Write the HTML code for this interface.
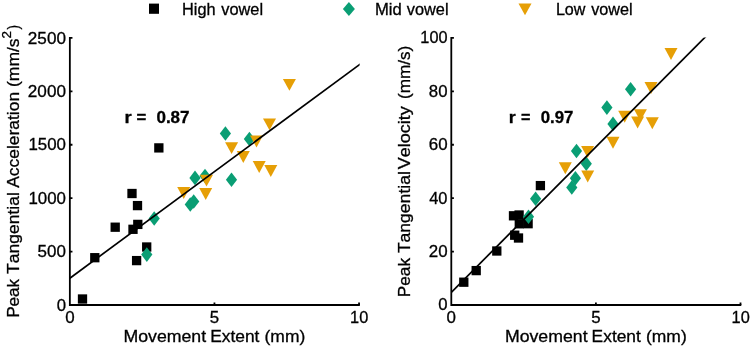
<!DOCTYPE html><html><head><meta charset="utf-8"><title>fig</title><style>html,body{margin:0;padding:0;background:#fff}svg{display:block}text{font-family:"Liberation Sans",sans-serif;font-kerning:none;stroke:#000;stroke-width:0.3px;font-size:16.5px;fill:#000}</style></head><body>
<svg width="751" height="347" viewBox="0 0 751 347">
<rect width="751" height="347" fill="#fff"/>
<rect x="149" y="3.6" width="10" height="10.2" fill="#000"/>
<path d="M348.90 1.95L354.90 8.95L348.90 15.95L342.90 8.95Z" fill="#0a9e74"/>
<path d="M518.50 3.60L531.50 3.60L525.00 15.30Z" fill="#e69f06"/>
<rect x="77.85" y="294.35" width="9.3" height="9.3" fill="#000"/>
<rect x="90.15" y="253.05" width="9.3" height="9.3" fill="#000"/>
<rect x="131.95" y="255.95" width="9.3" height="9.3" fill="#000"/>
<rect x="110.55" y="222.55" width="9.3" height="9.3" fill="#000"/>
<rect x="128.35" y="224.65" width="9.3" height="9.3" fill="#000"/>
<rect x="133.15" y="219.75" width="9.3" height="9.3" fill="#000"/>
<rect x="132.85" y="200.95" width="9.3" height="9.3" fill="#000"/>
<rect x="127.35" y="188.85" width="9.3" height="9.3" fill="#000"/>
<rect x="142.05" y="242.35" width="9.3" height="9.3" fill="#000"/>
<rect x="154.20" y="143.25" width="9.3" height="9.3" fill="#000"/>
<path d="M146.80 247.30L152.40 254.60L146.80 261.90L141.20 254.60Z" fill="#0a9e74"/>
<path d="M154.20 211.20L159.80 218.50L154.20 225.80L148.60 218.50Z" fill="#0a9e74"/>
<path d="M190.30 197.20L195.90 204.50L190.30 211.80L184.70 204.50Z" fill="#0a9e74"/>
<path d="M193.70 194.20L199.30 201.50L193.70 208.80L188.10 201.50Z" fill="#0a9e74"/>
<path d="M195.00 170.60L200.60 177.90L195.00 185.20L189.40 177.90Z" fill="#0a9e74"/>
<path d="M205.00 168.70L210.60 176.00L205.00 183.30L199.40 176.00Z" fill="#0a9e74"/>
<path d="M231.50 172.50L237.10 179.80L231.50 187.10L225.90 179.80Z" fill="#0a9e74"/>
<path d="M225.40 126.20L231.00 133.50L225.40 140.80L219.80 133.50Z" fill="#0a9e74"/>
<path d="M249.40 131.70L255.00 139.00L249.40 146.30L243.80 139.00Z" fill="#0a9e74"/>
<path d="M177.20 187.00L190.20 187.00L183.70 198.90Z" fill="#e69f06"/>
<path d="M199.20 188.00L212.20 188.00L205.70 199.90Z" fill="#e69f06"/>
<path d="M200.00 174.70L213.00 174.70L206.50 186.60Z" fill="#e69f06"/>
<path d="M225.10 142.20L238.10 142.20L231.60 154.10Z" fill="#e69f06"/>
<path d="M236.80 151.00L249.80 151.00L243.30 162.90Z" fill="#e69f06"/>
<path d="M250.00 135.50L263.00 135.50L256.50 147.40Z" fill="#e69f06"/>
<path d="M263.00 118.40L276.00 118.40L269.50 130.30Z" fill="#e69f06"/>
<path d="M252.70 161.00L265.70 161.00L259.20 172.90Z" fill="#e69f06"/>
<path d="M264.30 165.10L277.30 165.10L270.80 177.00Z" fill="#e69f06"/>
<path d="M282.90 78.90L295.90 78.90L289.40 90.80Z" fill="#e69f06"/>
<clipPath id="c69"><rect x="69.85" y="37.5" width="289.80" height="267.50"/></clipPath>
<line x1="69.85" y1="278.2" x2="373.88" y2="54.03" stroke="#000" stroke-width="1.7" clip-path="url(#c69)"/>
<path d="M69.85 37.1V305.0H359.8500000000001" fill="none" stroke="#000" stroke-width="1.8" stroke-linejoin="miter"/>
<path d="M69.85 251.58h2.6M69.85 198.16h2.6M69.85 144.74h2.6M69.85 91.32h2.6M69.85 37.90h2.6M214.45 305.0v-2.6M359.05 305.0v-2.6" fill="none" stroke="#000" stroke-width="1.8"/>
<rect x="459.15" y="277.55" width="9.3" height="9.3" fill="#000"/>
<rect x="471.55" y="265.95" width="9.3" height="9.3" fill="#000"/>
<rect x="492.15" y="246.35" width="9.3" height="9.3" fill="#000"/>
<rect x="508.85" y="211.15" width="9.3" height="9.3" fill="#000"/>
<rect x="514.45" y="210.35" width="9.3" height="9.3" fill="#000"/>
<rect x="514.65" y="219.15" width="9.3" height="9.3" fill="#000"/>
<rect x="523.45" y="219.05" width="9.3" height="9.3" fill="#000"/>
<rect x="510.05" y="230.55" width="9.3" height="9.3" fill="#000"/>
<rect x="513.85" y="233.35" width="9.3" height="9.3" fill="#000"/>
<rect x="535.75" y="180.95" width="9.3" height="9.3" fill="#000"/>
<path d="M528.50 209.50L534.10 216.80L528.50 224.10L522.90 216.80Z" fill="#0a9e74"/>
<path d="M535.60 191.50L541.20 198.80L535.60 206.10L530.00 198.80Z" fill="#0a9e74"/>
<path d="M571.80 180.20L577.40 187.50L571.80 194.80L566.20 187.50Z" fill="#0a9e74"/>
<path d="M575.40 171.00L581.00 178.30L575.40 185.60L569.80 178.30Z" fill="#0a9e74"/>
<path d="M586.30 156.50L591.90 163.80L586.30 171.10L580.70 163.80Z" fill="#0a9e74"/>
<path d="M576.50 143.70L582.10 151.00L576.50 158.30L570.90 151.00Z" fill="#0a9e74"/>
<path d="M613.00 116.60L618.60 123.90L613.00 131.20L607.40 123.90Z" fill="#0a9e74"/>
<path d="M606.90 100.30L612.50 107.60L606.90 114.90L601.30 107.60Z" fill="#0a9e74"/>
<path d="M630.60 81.90L636.20 89.20L630.60 96.50L625.00 89.20Z" fill="#0a9e74"/>
<path d="M558.80 162.30L571.80 162.30L565.30 174.20Z" fill="#e69f06"/>
<path d="M581.10 146.10L594.10 146.10L587.60 158.00Z" fill="#e69f06"/>
<path d="M581.20 170.60L594.20 170.60L587.70 182.50Z" fill="#e69f06"/>
<path d="M606.50 136.80L619.50 136.80L613.00 148.70Z" fill="#e69f06"/>
<path d="M618.20 110.80L631.20 110.80L624.70 122.70Z" fill="#e69f06"/>
<path d="M633.90 109.20L646.90 109.20L640.40 121.10Z" fill="#e69f06"/>
<path d="M631.10 116.50L644.10 116.50L637.60 128.40Z" fill="#e69f06"/>
<path d="M645.80 117.30L658.80 117.30L652.30 129.20Z" fill="#e69f06"/>
<path d="M644.50 82.00L657.50 82.00L651.00 93.90Z" fill="#e69f06"/>
<path d="M664.50 48.10L677.50 48.10L671.00 60.00Z" fill="#e69f06"/>
<clipPath id="c451"><rect x="451.3" y="37.5" width="289.80" height="267.50"/></clipPath>
<line x1="451.3" y1="292.3" x2="717.16" y2="25.07" stroke="#000" stroke-width="1.7" clip-path="url(#c451)"/>
<path d="M451.3 37.1V305.0H741.3" fill="none" stroke="#000" stroke-width="1.8" stroke-linejoin="miter"/>
<path d="M451.3 251.58h2.6M451.3 198.16h2.6M451.3 144.74h2.6M451.3 91.32h2.6M451.3 37.90h2.6M595.90 305.0v-2.6M740.50 305.0v-2.6" fill="none" stroke="#000" stroke-width="1.8"/>
<g style="filter:grayscale(1)">
<text transform="translate(182.06 14.80) scale(1.0211 1)" font-weight="normal" style="font-size:16px">High</text>
<text transform="translate(221.24 14.80) scale(1.0231 1)" font-weight="normal" style="font-size:16px">vowel</text>
<text transform="translate(374.93 14.80) scale(1.0411 1)" font-weight="normal" style="font-size:16px">Mid</text>
<text transform="translate(406.84 14.80) scale(1.0206 1)" font-weight="normal" style="font-size:16px">vowel</text>
<text transform="translate(555.88 14.80) scale(1.0079 1)" font-weight="normal" style="font-size:16px">Low</text>
<text transform="translate(591.19 14.80) scale(1.0130 1)" font-weight="normal" style="font-size:16px">vowel</text>
<text transform="translate(123.45 342.20) scale(1.0734 1)" font-weight="normal">Movement</text>
<text transform="translate(210.17 342.20) scale(1.0529 1)" font-weight="normal">Extent</text>
<text transform="translate(264.52 342.20) scale(1.0595 1)" font-weight="normal">(mm)</text>
<text transform="translate(504.90 342.20) scale(1.0734 1)" font-weight="normal">Movement</text>
<text transform="translate(591.62 342.20) scale(1.0529 1)" font-weight="normal">Extent</text>
<text transform="translate(645.97 342.20) scale(1.0595 1)" font-weight="normal">(mm)</text>
<text transform="translate(124.58 122.70) scale(1.1420 1)" font-weight="bold" style="font-size:16.2px">r</text>
<text transform="translate(136.40 122.70) scale(1.0340 1)" font-weight="bold" style="font-size:16.2px">=</text>
<text transform="translate(156.43 122.70) scale(1.0505 1)" font-weight="bold" style="font-size:16.2px">0.87</text>
<text transform="translate(508.82 123.40) scale(1.1157 1)" font-weight="bold" style="font-size:16.0px">r</text>
<text transform="translate(520.93 123.40) scale(1.0095 1)" font-weight="bold" style="font-size:16.0px">=</text>
<text transform="translate(540.64 123.40) scale(1.0502 1)" font-weight="bold" style="font-size:16.0px">0.97</text>
<text transform="translate(56.65 310.60) scale(1.0143 1)" font-weight="normal">0</text>
<text transform="translate(37.62 257.18) scale(1.0296 1)" font-weight="normal">500</text>
<text transform="translate(28.41 203.76) scale(1.0229 1)" font-weight="normal">1000</text>
<text transform="translate(28.41 150.34) scale(1.0229 1)" font-weight="normal">1500</text>
<text transform="translate(27.84 96.92) scale(1.0388 1)" font-weight="normal">2000</text>
<text transform="translate(27.84 43.50) scale(1.0388 1)" font-weight="normal">2500</text>
<text transform="translate(438.25 310.45) scale(1.0143 1)" font-weight="normal">0</text>
<text transform="translate(428.75 257.03) scale(1.0250 1)" font-weight="normal">20</text>
<text transform="translate(429.22 203.61) scale(0.9983 1)" font-weight="normal">40</text>
<text transform="translate(428.74 150.19) scale(1.0255 1)" font-weight="normal">60</text>
<text transform="translate(428.87 96.77) scale(1.0182 1)" font-weight="normal">80</text>
<text transform="translate(420.36 43.35) scale(0.9872 1)" font-weight="normal">100</text>
<text transform="translate(65.14 323.40) scale(1.0269 1)" font-weight="normal">0</text>
<text transform="translate(209.77 323.40) scale(1.0226 1)" font-weight="normal">5</text>
<text transform="translate(350.10 323.40) scale(0.9908 1)" font-weight="normal">10</text>
<text transform="translate(446.59 323.40) scale(1.0269 1)" font-weight="normal">0</text>
<text transform="translate(591.22 323.40) scale(1.0226 1)" font-weight="normal">5</text>
<text transform="translate(731.55 323.40) scale(0.9908 1)" font-weight="normal">10</text>
<text transform="translate(18.80 317.80) rotate(-90) scale(1.0337 1)" font-weight="normal">Peak</text>
<text transform="translate(18.80 273.89) rotate(-90) scale(1.0598 1)" font-weight="normal">Tangential</text>
<text transform="translate(18.80 187.83) rotate(-90) scale(1.0580 1)" font-weight="normal">Acceleration</text>
<text transform="translate(18.80 86.99) rotate(-90) scale(1.0611 1)" font-weight="normal">(mm/s</text>
<text transform="translate(18.80 29.58) rotate(-90) scale(0.8229 1)" font-weight="normal">)</text>
<text transform="translate(410.30 297.32) rotate(-90) scale(1.0474 1)" font-weight="normal">Peak</text>
<text transform="translate(410.30 253.09) rotate(-90) scale(1.0638 1)" font-weight="normal">Tangential</text>
<text transform="translate(410.30 169.18) rotate(-90) scale(1.0890 1)" font-weight="normal">Velocity</text>
<text transform="translate(410.30 99.06) rotate(-90) scale(1.0392 1)" font-weight="normal">(mm/s)</text>
<text transform="translate(11.0 38.4) rotate(-90) scale(1.06 1)" style="font-size:12.8px">2</text>
</g>
</svg></body></html>
